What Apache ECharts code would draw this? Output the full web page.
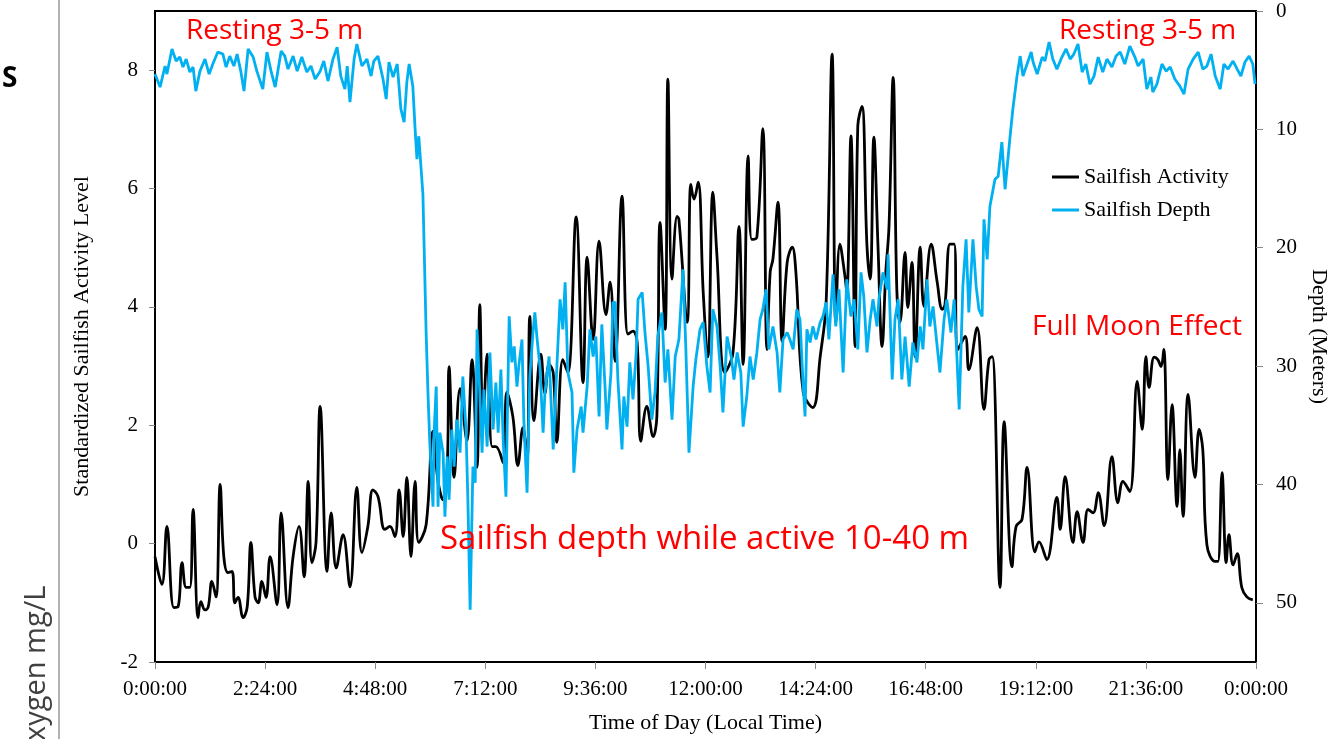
<!DOCTYPE html>
<html>
<head>
<meta charset="utf-8">
<title>Sailfish Activity and Depth</title>
<style>
    html, body { margin: 0; padding: 0; background: #fff; overflow: hidden; }
    #chart { width: 1332px; height: 739px; }
</style>
<script src="https://cdn.jsdelivr.net/npm/echarts@6/dist/echarts.min.js"></script>
</head>
<body>
<div id="chart"></div>
<script>
// 活动水平 (小时, 标准化值)
var actHours = [
    0.00, 0.15, 0.26, 0.41, 0.50, 0.59, 0.68, 0.76, 0.83, 0.94,
    1.00, 1.09, 1.16, 1.24, 1.33, 1.42, 1.50, 1.59, 1.68, 1.74,
    1.81, 1.92, 2.01, 2.09, 2.18, 2.25, 2.33, 2.42, 2.51, 2.66,
    2.75, 2.90, 3.01, 3.14, 3.25, 3.34, 3.42, 3.51, 3.60, 3.75,
    3.84, 3.95, 4.10, 4.25, 4.40, 4.51, 4.64, 4.75, 4.86, 5.01,
    5.12, 5.23, 5.32, 5.41, 5.49, 5.58, 5.67, 5.75, 5.91, 6.06,
    6.17, 6.28, 6.37, 6.41, 6.52, 6.65, 6.80, 6.91, 7.02, 7.08,
    7.15, 7.24, 7.35, 7.43, 7.59, 7.67, 7.80, 7.91, 8.02, 8.11,
    8.17, 8.26, 8.41, 8.50, 8.59, 8.68, 8.76, 8.89, 9.00, 9.18,
    9.33, 9.42, 9.55, 9.68, 9.83, 9.92, 10.03, 10.18, 10.31, 10.42,
    10.51, 10.59, 10.72, 10.86, 10.94, 11.01, 11.12, 11.18, 11.27, 11.38,
    11.42, 11.60, 11.68, 11.75, 11.84, 11.95, 12.05, 12.16, 12.25, 12.42,
    12.60, 12.73, 12.82, 12.93, 13.01, 13.12, 13.25, 13.34, 13.41, 13.47,
    13.58, 13.67, 13.78, 13.89, 13.97, 14.13, 14.34, 14.50, 14.63, 14.76,
    14.84, 14.93, 15.04, 15.08, 15.17, 15.26, 15.32, 15.41, 15.52, 15.59,
    15.67, 15.76, 15.85, 15.93, 16.00, 16.09, 16.17, 16.24, 16.35, 16.41,
    16.50, 16.57, 16.68, 16.76, 16.92, 17.05, 17.16, 17.22, 17.33, 17.42,
    17.50, 17.66, 17.74, 17.92, 18.07, 18.18, 18.25, 18.42, 18.51, 18.68,
    18.77, 18.90, 19.01, 19.18, 19.27, 19.44, 19.66, 19.73, 19.84, 20.01,
    20.10, 20.23, 20.34, 20.45, 20.56, 20.69, 20.86, 20.99, 21.10, 21.25,
    21.41, 21.52, 21.60, 21.67, 21.78, 21.86, 21.93, 21.99, 22.08, 22.17,
    22.28, 22.34, 22.41, 22.52, 22.67, 22.76, 22.84, 22.93, 23.11, 23.17,
    23.26, 23.35, 23.41, 23.50, 23.59, 23.69, 23.80, 23.93
];
var actLevel = [
    -0.22, -0.69, 0.29, -1.08, -1.07, -0.32, -0.74, -0.74, 0.58, -1.25,
    -0.98, -1.12, -1.07, -0.64, -0.90, 1.00, -0.22, -0.49, -0.47, -1.00,
    -0.91, -1.25, -1.07, 0.02, -0.90, -1.00, -0.64, -0.91, -0.22, -1.03,
    0.52, -1.08, -0.22, 0.29, -0.56, 1.05, -0.32, 0.02, 2.32, -0.47,
    0.52, -0.41, 0.15, -0.73, 0.95, -0.15, 0.29, 0.91, 0.80, 0.24,
    0.29, 0.12, 0.91, 0.12, 1.12, -0.22, 1.05, 0.02, 0.32, 1.90,
    1.05, 0.74, 1.30, 2.99, 1.12, 2.62, 1.74, 3.11, 1.29, 4.04,
    2.05, 3.20, 1.64, 1.64, 1.37, 2.56, 2.15, 1.32, 1.96, 1.42,
    3.84, 2.08, 3.20, 2.54, 3.03, 2.89, 1.71, 3.11, 2.89, 5.52,
    2.72, 4.84, 3.45, 5.11, 3.87, 4.42, 3.08, 5.87, 3.54, 3.59,
    3.40, 1.73, 2.32, 1.81, 2.15, 5.43, 3.62, 7.85, 4.47, 5.53,
    5.48, 3.74, 6.07, 5.82, 6.11, 4.25, 3.15, 5.94, 4.86, 2.89,
    3.23, 5.36, 3.03, 6.55, 5.14, 5.18, 7.01, 3.28, 4.59, 4.81,
    5.77, 3.42, 4.75, 5.01, 4.59, 2.56, 2.30, 3.16, 4.08, 8.27,
    3.74, 5.06, 4.52, 4.25, 6.89, 3.33, 7.06, 7.39, 5.03, 4.47,
    6.87, 5.03, 3.33, 4.59, 5.36, 7.88, 4.30, 3.74, 4.92, 3.99,
    4.75, 3.16, 5.01, 4.01, 5.06, 4.42, 3.96, 4.04, 5.06, 5.06,
    3.28, 3.50, 2.94, 3.65, 2.27, 3.11, 3.16, -0.74, 2.06, -0.39,
    0.29, 0.41, 1.29, -0.14, 0.03, -0.27, 0.78, 0.24, 1.13, 0.02,
    0.54, 0.02, 0.58, 0.52, 0.86, 0.30, 1.47, 0.69, 1.05, 0.88,
    2.74, 1.93, 3.16, 2.64, 3.15, 3.11, 2.99, 3.28, 1.08, 2.35,
    0.63, 1.59, 0.46, 2.52, 1.12, 1.93, 1.59, -0.02, -0.30, -0.30,
    1.20, -0.32, 0.15, -0.36, -0.17, -0.74, -0.90, -0.95
];

// 深度 (小时, 米)
var depthHours = [
    0.00, 0.11, 0.22, 0.26, 0.37, 0.46, 0.54, 0.61, 0.68, 0.76,
    0.83, 0.89, 0.98, 1.09, 1.18, 1.26, 1.37, 1.48, 1.55, 1.63,
    1.72, 1.79, 1.87, 1.94, 2.03, 2.14, 2.22, 2.35, 2.44, 2.53,
    2.62, 2.75, 2.83, 2.90, 3.01, 3.10, 3.20, 3.31, 3.40, 3.49,
    3.60, 3.68, 3.77, 3.88, 3.97, 4.05, 4.14, 4.19, 4.25, 4.34,
    4.40, 4.51, 4.62, 4.71, 4.77, 4.86, 4.97, 5.04, 5.10, 5.19,
    5.28, 5.36, 5.43, 5.49, 5.54, 5.62, 5.67, 5.71, 5.75, 5.84,
    5.91, 5.95, 5.99, 6.06, 6.08, 6.13, 6.17, 6.21, 6.28, 6.32,
    6.37, 6.41, 6.47, 6.52, 6.58, 6.65, 6.71, 6.78, 6.82, 6.87,
    6.93, 6.98, 7.02, 7.08, 7.13, 7.17, 7.24, 7.30, 7.37, 7.43,
    7.48, 7.54, 7.59, 7.65, 7.72, 7.78, 7.83, 7.89, 7.93, 8.00,
    8.04, 8.11, 8.17, 8.24, 8.28, 8.33, 8.39, 8.46, 8.50, 8.59,
    8.68, 8.76, 8.83, 8.89, 8.94, 9.00, 9.09, 9.13, 9.20, 9.29,
    9.33, 9.42, 9.48, 9.55, 9.61, 9.68, 9.74, 9.81, 9.85, 9.94,
    9.98, 10.03, 10.09, 10.18, 10.22, 10.29, 10.35, 10.42, 10.49, 10.53,
    10.62, 10.68, 10.75, 10.83, 10.90, 10.96, 11.05, 11.12, 11.18, 11.27,
    11.34, 11.42, 11.51, 11.57, 11.64, 11.73, 11.79, 11.88, 11.95, 12.03,
    12.10, 12.16, 12.25, 12.32, 12.38, 12.47, 12.56, 12.62, 12.69, 12.77,
    12.82, 12.90, 12.97, 13.04, 13.12, 13.19, 13.25, 13.32, 13.38, 13.47,
    13.56, 13.62, 13.69, 13.78, 13.84, 13.91, 13.99, 14.06, 14.13, 14.17,
    14.21, 14.28, 14.34, 14.41, 14.50, 14.56, 14.63, 14.69, 14.78, 14.84,
    14.91, 15.00, 15.08, 15.17, 15.24, 15.32, 15.39, 15.45, 15.52, 15.59,
    15.65, 15.74, 15.78, 15.87, 15.96, 15.98, 16.07, 16.13, 16.20, 16.28,
    16.35, 16.44, 16.52, 16.61, 16.68, 16.74, 16.83, 16.89, 16.96, 17.05,
    17.11, 17.20, 17.26, 17.35, 17.42, 17.48, 17.53, 17.61, 17.68, 17.74,
    17.83, 17.90, 17.96, 18.03, 18.07, 18.14, 18.20, 18.31, 18.38, 18.46,
    18.53, 18.64, 18.70, 18.79, 18.86, 18.92, 19.01, 19.10, 19.14, 19.23,
    19.34, 19.40, 19.49, 19.57, 19.66, 19.77, 19.86, 19.95, 20.03, 20.12,
    20.21, 20.29, 20.38, 20.47, 20.56, 20.66, 20.75, 20.86, 20.95, 21.04,
    21.14, 21.25, 21.36, 21.43, 21.54, 21.62, 21.71, 21.75, 21.84, 21.95,
    22.04, 22.13, 22.23, 22.34, 22.43, 22.52, 22.63, 22.74, 22.84, 22.93,
    23.02, 23.11, 23.22, 23.30, 23.39, 23.50, 23.59, 23.67, 23.76, 23.85,
    23.93, 23.98
];
var depthMeters = [
    5.33, 6.43, 4.65, 5.33, 3.21, 4.23, 3.89, 4.74, 4.06, 5.16,
    4.74, 6.77, 5.08, 4.06, 5.33, 4.48, 3.47, 3.64, 4.74, 3.81,
    4.65, 3.64, 5.08, 6.77, 3.21, 3.89, 5.08, 6.60, 3.47, 5.08,
    6.43, 3.38, 3.81, 4.91, 3.81, 5.08, 3.89, 5.16, 4.65, 5.75,
    5.08, 4.23, 5.92, 4.06, 3.05, 5.50, 6.60, 4.65, 7.70, 4.06,
    2.79, 4.65, 4.06, 5.50, 4.23, 3.81, 5.75, 7.44, 4.31, 5.58,
    4.48, 8.29, 9.39, 6.01, 4.48, 6.35, 9.98, 12.52, 10.58, 15.48,
    27.16, 32.23, 36.46, 41.88, 35.96, 31.73, 41.88, 35.62, 37.31, 42.72,
    37.65, 41.28, 35.36, 38.49, 34.52, 37.31, 30.88, 35.36, 41.28, 50.59,
    38.49, 39.85, 26.90, 32.23, 37.31, 31.98, 36.80, 28.85, 35.36, 31.39,
    35.62, 30.29, 36.21, 41.03, 25.80, 29.69, 28.34, 31.73, 30.03, 27.75,
    34.52, 40.69, 30.88, 27.16, 25.47, 27.75, 30.03, 35.62, 32.23, 29.19,
    37.05, 30.03, 24.36, 26.90, 22.93, 30.54, 32.23, 39.00, 35.36, 33.42,
    35.62, 31.73, 26.90, 29.19, 27.50, 34.26, 26.48, 31.73, 35.36, 30.54,
    24.62, 24.62, 31.13, 37.05, 32.57, 35.11, 29.69, 32.82, 28.85, 24.36,
    23.77, 27.16, 30.03, 34.52, 32.23, 27.50, 25.47, 31.39, 28.59, 34.52,
    29.19, 27.75, 21.83, 28.34, 37.31, 31.73, 29.44, 26.90, 26.31, 30.03,
    32.23, 25.21, 26.65, 30.03, 33.92, 27.50, 29.19, 31.13, 28.85, 30.54,
    35.11, 32.57, 29.19, 31.13, 28.85, 26.06, 25.21, 23.52, 28.59, 26.65,
    28.85, 32.23, 27.75, 27.16, 27.75, 28.59, 25.21, 26.06, 31.73, 34.26,
    26.90, 28.00, 26.65, 27.75, 26.31, 25.80, 24.62, 27.75, 22.25, 26.65,
    23.52, 30.54, 22.67, 25.80, 24.36, 28.59, 22.08, 24.11, 28.85, 26.06,
    24.36, 26.65, 24.36, 22.08, 23.52, 20.56, 31.13, 26.06, 24.36, 31.13,
    27.50, 31.73, 28.00, 29.69, 26.65, 28.59, 22.67, 26.65, 24.96, 28.34,
    30.54, 26.06, 24.36, 27.16, 24.36, 29.19, 33.67, 23.27, 19.29, 25.47,
    19.29, 23.27, 25.21, 25.80, 17.60, 20.98, 16.50, 14.21, 13.96, 11.08,
    15.06, 10.58, 8.29, 5.50, 3.81, 5.50, 4.48, 3.47, 4.31, 5.33,
    3.89, 4.23, 2.62, 4.06, 4.91, 3.89, 3.21, 4.06, 3.64, 2.79,
    5.16, 4.48, 6.18, 5.50, 3.89, 5.16, 4.06, 4.74, 3.81, 3.47,
    4.48, 2.96, 3.89, 4.65, 4.06, 6.60, 5.58, 6.85, 6.18, 4.48,
    5.08, 4.74, 5.75, 6.35, 7.02, 4.91, 4.06, 3.47, 4.91, 4.65,
    3.64, 5.50, 6.60, 4.48, 4.91, 4.23, 4.91, 5.50, 4.31, 3.81,
    4.48, 6.18
];

// 横轴刻度标签 (每 2.4 小时)
var timeTicks = ['0:00:00', '2:24:00', '4:48:00', '7:12:00', '9:36:00', '12:00:00',
    '14:24:00', '16:48:00', '19:12:00', '21:36:00', '0:00:00'];

var serif = '"Liberation Serif", "Times New Roman", serif';
var sans = '"Open Sans", "Liberation Sans", sans-serif';

function zip(xs, ys) {
    var arr = [];
    for (var i = 0; i < xs.length; i++) {
        arr.push([xs[i], ys[i]]);
    }
    return arr;
}

function redNote(text, x, y, size) {
    return {
        type: 'text',
        x: x,
        y: y,
        z: 100,
        style: {
            text: text,
            fill: '#ff0000',
            fontFamily: sans,
            fontSize: size,
            align: 'left',
            verticalAlign: 'middle'
        }
    };
}

window.onload = function () {
    var myChart = echarts.init(document.getElementById('chart'));

    var option = {
        animation: false,
        backgroundColor: '#fff',
        grid: {
            left: 155,
            right: 76,
            top: 11,
            bottom: 77,
            outerBoundsMode: 'none',
            show: true,
            borderColor: '#000',
            borderWidth: 2
        },
        legend: {
            orient: 'vertical',
            left: 1052,
            top: 166,
            padding: 0,
            icon: 'rect',
            itemWidth: 27,
            itemHeight: 3,
            itemGap: 11,
            textStyle: {
                fontFamily: serif,
                fontSize: 22,
                color: '#000'
            },
            data: ['Sailfish Activity', 'Sailfish Depth']
        },
        xAxis: {
            type: 'value',
            min: 0,
            max: 24,
            interval: 2.4,
            name: 'Time of Day (Local Time)',
            nameLocation: 'middle',
            nameGap: 50,
            nameTextStyle: { fontFamily: serif, fontSize: 22, color: '#000' },
            axisLine: { show: true, onZero: false, lineStyle: { color: '#000', width: 2 } },
            axisTick: { show: true, length: 7, lineStyle: { color: '#888' } },
            splitLine: { show: false },
            axisLabel: {
                fontFamily: serif,
                fontSize: 21,
                color: '#000',
                margin: 17,
                formatter: function (v) {
                    return timeTicks[Math.round(v / 2.4)];
                }
            }
        },
        yAxis: [{
            type: 'value',
            min: -2,
            max: 9,
            interval: 2,
            position: 'left',
            name: 'Standardized Sailfish Activity Level',
            nameLocation: 'middle',
            nameGap: 62,
            nameTextStyle: { fontFamily: serif, fontSize: 22, color: '#000' },
            axisLine: { show: true, lineStyle: { color: '#000', width: 2 } },
            axisTick: { show: true, length: 6, lineStyle: { color: '#888' } },
            splitLine: { show: false },
            axisLabel: {
                fontFamily: serif,
                fontSize: 21,
                color: '#000',
                margin: 17,
                showMaxLabel: false
            }
        }, {
            type: 'value',
            min: 0,
            max: 55,
            interval: 10,
            inverse: true,
            position: 'right',
            name: 'Depth (Meters)',
            nameLocation: 'middle',
            nameGap: 48,
            nameRotate: -90,
            nameTextStyle: { fontFamily: serif, fontSize: 22, color: '#000' },
            axisLine: { show: true, lineStyle: { color: '#000', width: 2 } },
            axisTick: { show: true, length: 7, lineStyle: { color: '#888' } },
            splitLine: { show: false },
            axisLabel: {
                fontFamily: serif,
                fontSize: 21,
                color: '#000',
                margin: 20,
                showMaxLabel: false
            }
        }],
        series: [{
            name: 'Sailfish Activity',
            type: 'line',
            yAxisIndex: 0,
            smooth: 0.4,
            showSymbol: false,
            lineStyle: { color: '#000', width: 2.8 },
            itemStyle: { color: '#000' },
            data: zip(actHours, actLevel)
        }, {
            name: 'Sailfish Depth',
            type: 'line',
            yAxisIndex: 1,
            showSymbol: false,
            lineStyle: { color: '#00b0f0', width: 2.8 },
            itemStyle: { color: '#00b0f0' },
            data: zip(depthHours, depthMeters)
        }],
        graphic: [
            // 幻灯片左侧残留部分
            {
                type: 'line',
                shape: { x1: 59, y1: 0, x2: 59, y2: 739 },
                style: { stroke: '#9a9a9a', lineWidth: 1.5 }
            },
            {
                type: 'text',
                x: 2,
                y: 79,
                style: {
                    text: 'S',
                    fill: '#000',
                    fontFamily: sans,
                    fontWeight: 'bold',
                    fontSize: 28,
                    align: 'left',
                    verticalAlign: 'middle'
                }
            },
            {
                type: 'text',
                x: 37,
                y: 741,
                rotation: Math.PI / 2,
                style: {
                    text: 'xygen mg/L',
                    fill: '#404040',
                    fontFamily: sans,
                    fontSize: 29,
                    align: 'left',
                    verticalAlign: 'middle'
                }
            },
            redNote('Resting 3-5 m', 186, 31, 28),
            redNote('Resting 3-5 m', 1059, 31, 28),
            redNote('Full Moon Effect', 1032, 327, 28),
            redNote('Sailfish depth while active 10-40 m', 440, 540, 33)
        ]
    };

    myChart.setOption(option);
};
</script>
</body>
</html>
